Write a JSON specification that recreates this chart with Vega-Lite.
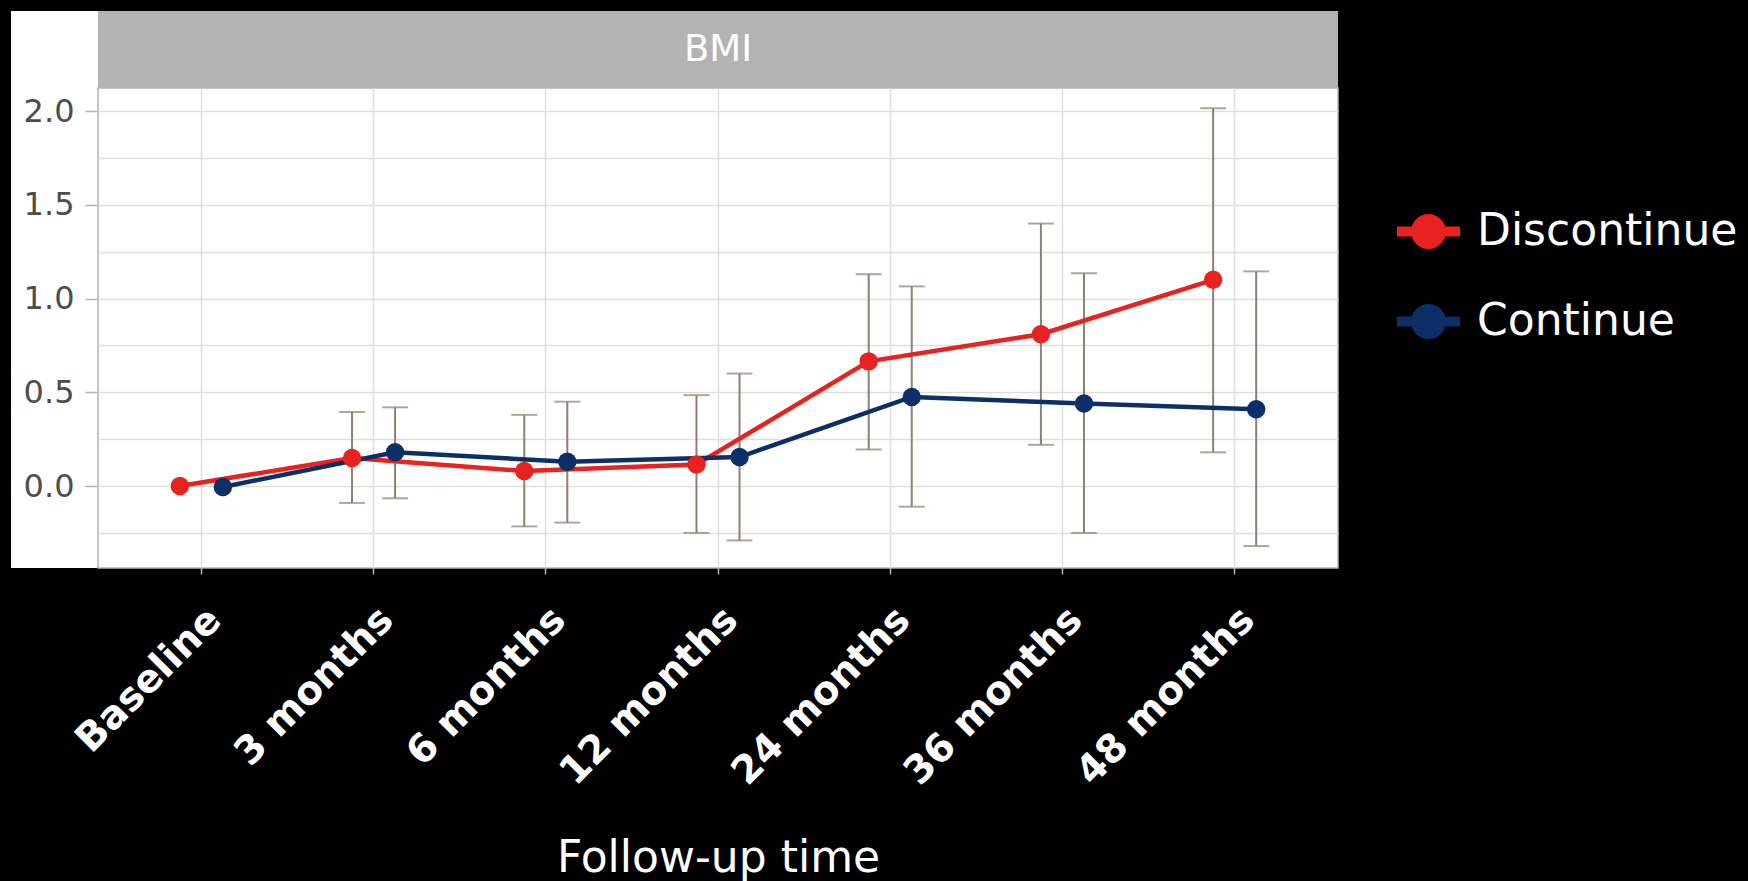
{
  "$schema": "https://vega.github.io/schema/vega-lite/v6.json",
  "background": "black",
  "padding": {"left": 11, "top": 11, "right": 10, "bottom": 3},
  "spacing": 0,
  "bounds": "flush",
  "align": "each",
  "columns": 2,
  "config": {"font": "DejaVu Sans", "view": {"stroke": null}},
  "datasets": {
    "strip": [{"facet": "BMI"}],
    "bmi": [
      {"time": "Baseline", "group": "Discontinue", "mean": 0, "lo": null, "hi": null},
      {"time": "3 months", "group": "Discontinue", "mean": 0.15, "lo": -0.09, "hi": 0.395},
      {"time": "6 months", "group": "Discontinue", "mean": 0.08, "lo": -0.215, "hi": 0.38},
      {"time": "12 months", "group": "Discontinue", "mean": 0.115, "lo": -0.25, "hi": 0.485},
      {"time": "24 months", "group": "Discontinue", "mean": 0.665, "lo": 0.195, "hi": 1.13},
      {"time": "36 months", "group": "Discontinue", "mean": 0.81, "lo": 0.22, "hi": 1.40},
      {"time": "48 months", "group": "Discontinue", "mean": 1.10, "lo": 0.18, "hi": 2.015},
      {"time": "Baseline", "group": "Continue", "mean": -0.005, "lo": null, "hi": null},
      {"time": "3 months", "group": "Continue", "mean": 0.18, "lo": -0.065, "hi": 0.42},
      {"time": "6 months", "group": "Continue", "mean": 0.13, "lo": -0.195, "hi": 0.45},
      {"time": "12 months", "group": "Continue", "mean": 0.155, "lo": -0.29, "hi": 0.60},
      {"time": "24 months", "group": "Continue", "mean": 0.475, "lo": -0.11, "hi": 1.065},
      {"time": "36 months", "group": "Continue", "mean": 0.44, "lo": -0.25, "hi": 1.135},
      {"time": "48 months", "group": "Continue", "mean": 0.41, "lo": -0.32, "hi": 1.145}
    ]
  },
  "concat": [
    {
      "width": 87, "height": 77,
      "view": {"fill": "white", "stroke": null},
      "data": {"name": "strip"},
      "mark": {"type": "point", "opacity": 0}
    },
    {
      "width": 1240, "height": 77,
      "view": {"fill": "#B3B3B3", "stroke": null},
      "data": {"name": "strip"},
      "mark": {"type": "text", "color": "white", "fontSize": 37, "font": "DejaVu Sans", "baseline": "middle", "align": "center"},
      "encoding": {"text": {"field": "facet"}}
    },
    {
      "width": 87, "height": 480,
      "view": {"fill": "white", "stroke": null},
      "data": {"name": "bmi"},
      "mark": {"type": "point", "opacity": 0},
      "encoding": {
        "y": {
          "field": "mean", "type": "quantitative",
          "scale": {"domain": [-0.437, 2.123], "nice": false, "zero": false},
          "axis": {
            "orient": "left", "offset": -87, "title": null, "domain": false, "grid": false,
            "values": [0, 0.5, 1, 1.5, 2], "format": ".1f",
            "tickSize": 13, "tickColor": "#B3B3B3", "tickWidth": 1.5,
            "labelPadding": 11, "labelFontSize": 32, "labelFont": "DejaVu Sans", "labelColor": "#4D4D4D"
          }
        }
      }
    },
    {
      "width": 1240, "height": 480,
      "view": {"fill": "white", "stroke": "#B3B3B3", "strokeWidth": 1.5},
      "data": {"name": "bmi"},
      "encoding": {
        "x": {
          "field": "time", "type": "nominal",
          "sort": ["Baseline", "3 months", "6 months", "12 months", "24 months", "36 months", "48 months"],
          "scale": {"paddingInner": 0, "paddingOuter": 0.1},
          "axis": {
            "title": "Follow-up time", "titleColor": "white", "titleFontSize": 44, "titleFontWeight": "normal", "titleFont": "DejaVu Sans", "titlePadding": 68,
            "labelAngle": -45, "labelAlign": "right", "labelBaseline": "top", "labelColor": "white", "labelLimit": 0,
            "labelFontSize": 39, "labelFontWeight": "bold", "labelFont": "DejaVu Sans", "labelPadding": 26, "labelOffset": 0,
            "ticks": true, "tickSize": 6, "tickColor": "#B3B3B3", "tickWidth": 1.5, "domain": false,
            "grid": true, "gridColor": "#DEDEDE", "gridWidth": 1.5, "bandPosition": 0.5
          }
        },
        "xOffset": {"field": "group", "scale": {"domain": ["Discontinue", "Continue"], "paddingInner": 0, "paddingOuter": 2.31}}
      },
      "layer": [
        {
          "mark": {"type": "rule", "color": "#8C8173", "strokeWidth": 2},
          "encoding": {
            "y": {"field": "lo", "type": "quantitative", "scale": {"domain": [-0.437, 2.123], "nice": false, "zero": false},
              "axis": {"title": null, "labels": false, "ticks": false, "domain": false, "grid": true, "gridColor": "#DEDEDE", "gridWidth": 1.5,
                "values": [-0.25, 0, 0.25, 0.5, 0.75, 1, 1.25, 1.5, 1.75, 2]}},
            "y2": {"field": "hi"}
          }
        },
        {
          "mark": {"type": "tick", "color": "#8C8173", "thickness": 2, "size": 26},
          "encoding": {"y": {"field": "lo", "type": "quantitative"}}
        },
        {
          "mark": {"type": "tick", "color": "#8C8173", "thickness": 2, "size": 26},
          "encoding": {"y": {"field": "hi", "type": "quantitative"}}
        },
        {
          "mark": {"type": "line", "strokeWidth": 4.5},
          "encoding": {
            "y": {"field": "mean", "type": "quantitative"},
            "color": {
              "field": "group", "type": "nominal",
              "scale": {"domain": ["Discontinue", "Continue"], "range": ["#E8221E", "#0B2F66"]},
              "legend": {
                "title": null, "orient": "none", "legendX": 1386, "legendY": 189,
                "symbolType": "M-1,-0.16H1V0.16H-1Z M0.556,0A0.556,0.556,0,1,1,-0.556,0A0.556,0.556,0,1,1,0.556,0Z",
                "symbolSize": 3969, "symbolStrokeWidth": 0, "symbolOpacity": 1,
                "labelFontSize": 44, "labelColor": "white", "labelFont": "DejaVu Sans", "labelOffset": 17,
                "rowPadding": 36, "labelLimit": 0
              }
            }
          }
        },
        {
          "mark": {"type": "point", "filled": true, "size": 340, "opacity": 1},
          "encoding": {
            "y": {"field": "mean", "type": "quantitative"},
            "color": {
              "field": "group", "type": "nominal",
              "scale": {"domain": ["Discontinue", "Continue"], "range": ["#E8221E", "#0B2F66"]},
              "legend": {
                "title": null, "orient": "none", "legendX": 1386, "legendY": 189,
                "symbolType": "M-1,-0.16H1V0.16H-1Z M0.556,0A0.556,0.556,0,1,1,-0.556,0A0.556,0.556,0,1,1,0.556,0Z",
                "symbolSize": 3969, "symbolStrokeWidth": 0, "symbolOpacity": 1,
                "labelFontSize": 44, "labelColor": "white", "labelFont": "DejaVu Sans", "labelOffset": 17,
                "rowPadding": 36, "labelLimit": 0
              }
            }
          }
        }
      ]
    }
  ]
}
